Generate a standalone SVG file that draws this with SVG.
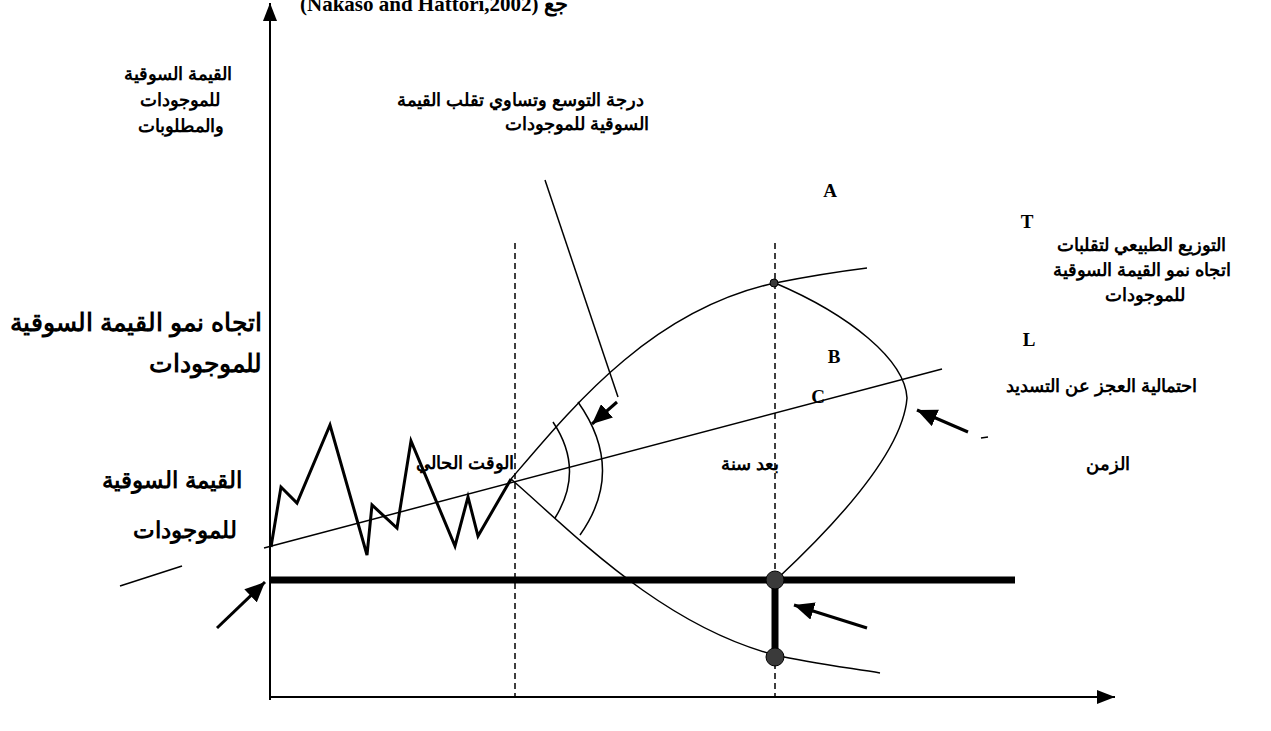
<svg xmlns="http://www.w3.org/2000/svg" width="1271" height="731" viewBox="0 0 1271 731">
<style>
.ar{font-family:"Liberation Sans","Noto Sans",sans-serif;font-weight:bold;fill:#000;text-anchor:middle}
.s18{font-size:18px}
.let{font-family:"Liberation Serif",serif;font-weight:bold;font-size:19px;fill:#000;text-anchor:middle}
.thin{fill:none;stroke:#000;stroke-width:1.5}
.dash{fill:none;stroke:#000;stroke-width:1.5;stroke-dasharray:6,4}
.arr{fill:none;stroke:#000;stroke-width:3;marker-end:url(#ah)}
.dot{fill:#3a3a3a;stroke:#000;stroke-width:1}
</style>
<defs>
<marker id="ah" markerUnits="userSpaceOnUse" markerWidth="20" markerHeight="18" refX="20" refY="9" orient="auto">
<path d="M0,0 L20,9 L0,18 z" fill="#000"/>
</marker>
<marker id="axh" markerUnits="userSpaceOnUse" markerWidth="18" markerHeight="14" refX="18" refY="7" orient="auto">
<path d="M0,0 L18,7 L0,14 z" fill="#000"/>
</marker>
</defs>
<rect width="1271" height="731" fill="#fff"/>
<text x="300" y="11" font-family="Liberation Serif,serif" font-size="21" font-weight="bold">(Nakaso and Hattori,2002) جع</text>
<g id="connectors">
<line x1="270" y1="700" x2="270" y2="3" stroke="#000" stroke-width="2" marker-end="url(#axh)"/>
<line x1="270" y1="697" x2="1115" y2="697" stroke="#000" stroke-width="2" marker-end="url(#axh)"/>
<line class="dash" x1="515" y1="243" x2="515" y2="697"/>
<line class="dash" x1="775" y1="243" x2="775" y2="697"/>
<line class="thin" x1="264" y1="548" x2="942" y2="369"/>
<line class="thin" x1="120" y1="586" x2="182" y2="566"/>
<polyline fill="none" stroke="#000" stroke-width="3" stroke-linejoin="miter" points="271,547 281,487 297,503 330,425 367,555 372,505 397,528 411,441 455,546 468,497 478,536 511,479"/>
<path class="thin" d="M511,479 C570,410 650,310 775,283 C800,278 835,272 867,268"/>
<path class="thin" d="M511,479 C570,530 660,625 775,655 C810,663 850,668 880,673"/>
<path class="thin" d="M775,283 C850,315 905,360 907,398 C903,450 840,520 778,578"/>
<path class="thin" d="M553,422 Q585,470 555,518"/>
<path class="thin" d="M578,402 Q626,470 580,535"/>
<line class="thin" x1="545" y1="180" x2="618" y2="397"/>
<line x1="270" y1="580" x2="1015" y2="580" stroke="#000" stroke-width="7"/>
<line x1="775" y1="580" x2="775" y2="657" stroke="#000" stroke-width="7"/>
<line class="arr" x1="617" y1="402" x2="592" y2="424"/>
<line class="arr" x1="867" y1="628" x2="794" y2="605"/>
<line class="arr" x1="968" y1="432" x2="917" y2="410"/>
<line class="arr" x1="217" y1="628" x2="265" y2="582" stroke-width="2.5"/>
<line class="thin" x1="981" y1="438" x2="988" y2="437"/>
</g>
<g id="dots">
<circle class="dot" cx="775" cy="580" r="9"/>
<circle class="dot" cx="775" cy="657" r="9"/>
<circle class="dot" cx="774" cy="283" r="4"/>
</g>
<g id="label-axis-y">
<text class="ar s18" x="178" y="80">القيمة السوقية</text>
<text class="ar s18" x="180" y="106">للموجودات</text>
<text class="ar s18" x="181" y="132">والمطلوبات</text>
</g>
<g id="label-spread">
<text class="ar s18" x="521" y="106">درجة التوسع وتساوي تقلب القيمة</text>
<text class="ar s18" x="577" y="130">السوقية للموجودات</text>
</g>
<g id="label-A"><text class="let" x="830" y="197">A</text></g>
<g id="label-T"><text class="let" x="1027" y="228">T</text></g>
<g id="label-dist">
<text class="ar s18" x="1142" y="251">التوزيع الطبيعي لتقلبات</text>
<text class="ar s18" x="1142" y="276">اتجاه نمو القيمة السوقية</text>
<text class="ar s18" x="1145" y="301">للموجودات</text>
</g>
<g id="label-L"><text class="let" x="1029" y="346">L</text></g>
<g id="label-B"><text class="let" x="834" y="363">B</text></g>
<g id="label-C"><text class="let" x="818" y="403">C</text></g>
<g id="label-default">
<text class="ar s18" x="1102" y="392">احتمالية العجز عن التسديد</text>
</g>
<g id="label-time"><text class="ar s18" x="1108" y="470">الزمن</text></g>
<g id="label-year"><text class="ar s18" x="750" y="470">بعد سنة</text></g>
<g id="label-now"><text class="ar s18" x="465" y="469">الوقت الحالي</text></g>
<g id="label-trend">
<text class="ar" font-size="25" x="136" y="331">اتجاه نمو القيمة السوقية</text>
<text class="ar" font-size="25" x="205" y="372">للموجودات</text>
</g>
<g id="label-value">
<text class="ar" font-size="23" x="172" y="488">القيمة السوقية</text>
<text class="ar" font-size="23" x="185" y="538">للموجودات</text>
</g>
</svg>
